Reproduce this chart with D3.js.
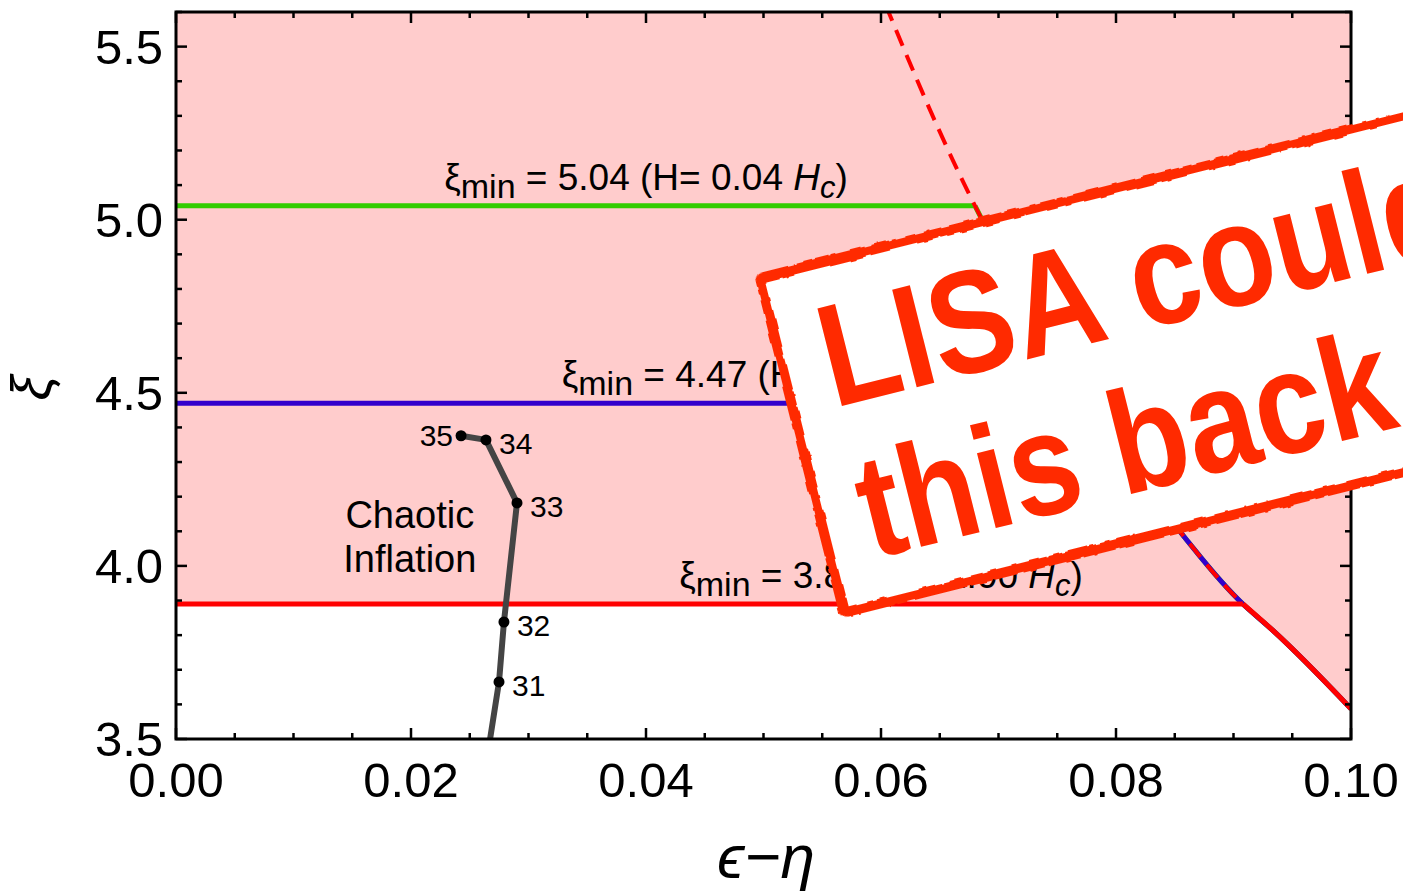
<!DOCTYPE html>
<html>
<head>
<meta charset="utf-8">
<script src="https://cdn.jsdelivr.net/npm/d3@7"></script>
<style>
  html, body { margin: 0; padding: 0; background: #fff; }
  svg { display: block; }
  text { font-family: "Liberation Sans", Arial, "DejaVu Sans", sans-serif; }
</style>
</head>
<body>
<svg id="chart" width="1403" height="894"></svg>
<script>
// ---- data ----
const xDomain = [0, 0.10];
const yDomain = [3.5, 5.6];
const xTickValues = [0, 0.02, 0.04, 0.06, 0.08, 0.10];
const xTickLabels = ["0.00", "0.02", "0.04", "0.06", "0.08", "0.10"];
const yTickValues = [3.5, 4.0, 4.5, 5.0, 5.5];
const yTickLabels = ["3.5", "4.0", "4.5", "5.0", "5.5"];

// boundary of the allowed region (epsilon - eta vs xi)
const boundaryX  = [0.0604, 0.0680, 0.0686, 0.0723, 0.0775, 0.0815, 0.0859, 0.0908, 0.0933, 0.1000];
const boundaryXi = [5.62,   5.04,   5.00,   4.77,   4.47,   4.28,   4.08,   3.89,   3.815,  3.587];

// minimum xi levels and their Hubble rates
const levelXi     = [5.04, 4.47, 3.89];
const levelH      = ["0.04", "0.20", "1.00"];
const levelColors = ["#33cc00", "#3300cc", "#ff0000"];

// chaotic inflation trajectory, labelled by number of e-folds
const chaoticX     = [0.0265, 0.02749, 0.02791, 0.02902, 0.02638, 0.02426];
const chaoticXi    = [3.45,   3.665,   3.838,   4.182,   4.364,   4.376];
const chaoticLabel = [null,   "31",    "32",    "33",    "34",    "35"];

// ---- layout ----
const svg = d3.select("#chart");
const plot = { left: 176, right: 1351, top: 12, bottom: 739 };
const x = d3.scaleLinear().domain(xDomain).range([plot.left, plot.right]);
const y = d3.scaleLinear().domain(yDomain).range([plot.bottom, plot.top]);

const defs = svg.append("defs");
defs.append("clipPath").attr("id", "plotClip")
  .append("rect")
  .attr("x", plot.left).attr("y", plot.top)
  .attr("width", plot.right - plot.left).attr("height", plot.bottom - plot.top);

const g = svg.append("g").attr("clip-path", "url(#plotClip)");

const boundary = boundaryX.map((v, i) => ({ x: v, xi: boundaryXi[i] }));
const curveGen = d3.line().x(d => x(d.x)).y(d => y(d.xi)).curve(d3.curveMonotoneY);
const linGen = d3.line().x(d => x(d.x)).y(d => y(d.xi));

// shaded region above the lowest level, on both sides of the boundary
const lowest = levelXi[levelXi.length - 1];
const lowerPart = boundary.filter(d => d.xi <= lowest + 1e-9);
const lowerStr = curveGen(lowerPart);
const fillPath = `M${x(0)},${y(lowest)}L` + lowerStr.slice(1) +
  `L${x(xDomain[1])},${y(yDomain[1])}L${x(0)},${y(yDomain[1])}Z`;
g.append("path").attr("d", fillPath).attr("fill", "#ffcccc");

// level lines: horizontal up to the boundary, then following it down
levelXi.forEach((lv, i) => {
  const sub = boundary.filter(d => d.xi <= lv + 1e-9);
  const start = sub[0];
  const d = linGen([{ x: 0, xi: lv }, start]) + curveGen(sub);
  g.append("path").attr("d", d)
    .attr("fill", "none").attr("stroke", levelColors[i])
    .attr("stroke-width", 5).attr("stroke-linejoin", "round");
});

// dashed boundary
g.append("path").attr("d", curveGen(boundary))
  .attr("fill", "none").attr("stroke", "#ff0000")
  .attr("stroke-width", 4).attr("stroke-dasharray", "17,10");

// level labels
const labelAt = [0.04, 0.05, 0.06];
levelXi.forEach((lv, i) => {
  const t = g.append("text")
    .attr("x", x(labelAt[i])).attr("y", y(lv) - 16)
    .attr("text-anchor", "middle")
    .attr("font-size", 37).attr("fill", "#000");
  t.append("tspan").text("ξ");
  t.append("tspan").attr("dy", 8).attr("font-size", 34).text("min");
  t.append("tspan").attr("dy", -8).text(` = ${lv.toFixed(2)} (H= ${levelH[i]} `);
  t.append("tspan").attr("font-style", "italic").text("H");
  t.append("tspan").attr("font-style", "italic").attr("dy", 8).attr("font-size", 31).text("c");
  t.append("tspan").attr("dy", -8).text(")");
});

// chaotic inflation trajectory
const traj = chaoticX.map((v, i) => ({ x: v, xi: chaoticXi[i], label: chaoticLabel[i] }));
g.append("path").attr("d", linGen(traj))
  .attr("fill", "none").attr("stroke", "#444")
  .attr("stroke-width", 6).attr("stroke-linejoin", "round");
const pts = traj.filter(d => d.label);
g.selectAll("circle.pt").data(pts).enter().append("circle")
  .attr("cx", d => x(d.x)).attr("cy", d => y(d.xi)).attr("r", 5.5).attr("fill", "#000");
g.selectAll("text.pt").data(pts).enter().append("text")
  .attr("x", (d, i) => i === pts.length - 1 ? x(d.x) - 8 : x(d.x) + 13)
  .attr("y", (d, i) => y(d.xi) + (i === pts.length - 1 ? 10 : 14))
  .attr("text-anchor", (d, i) => i === pts.length - 1 ? "end" : "start")
  .attr("font-size", 30).attr("fill", "#000")
  .text(d => d.label);

const ci = g.append("text").attr("text-anchor", "middle").attr("font-size", 38).attr("fill", "#000");
ci.append("tspan").attr("x", x(0.0199)).attr("y", 528).text("Chaotic");
ci.append("tspan").attr("x", x(0.0199)).attr("y", 572).text("Inflation");

// ---- frame and ticks ----
const axes = svg.append("g").attr("stroke", "#000");
axes.append("rect")
  .attr("x", plot.left).attr("y", plot.top)
  .attr("width", plot.right - plot.left).attr("height", plot.bottom - plot.top)
  .attr("fill", "none").attr("stroke-width", 3);

const xMinor = d3.range(0, 0.1001, 0.005);
xMinor.forEach(v => {
  const major = xTickValues.some(t => Math.abs(t - v) < 1e-9);
  const len = major ? 11 : 6;
  axes.append("line").attr("x1", x(v)).attr("x2", x(v))
    .attr("y1", plot.bottom).attr("y2", plot.bottom - len).attr("stroke-width", 2.5);
  axes.append("line").attr("x1", x(v)).attr("x2", x(v))
    .attr("y1", plot.top).attr("y2", plot.top + len).attr("stroke-width", 2.5);
});
const yMinor = d3.range(3.5, 5.6001, 0.1);
yMinor.forEach(v => {
  const major = yTickValues.some(t => Math.abs(t - v) < 1e-9);
  const len = major ? 11 : 6;
  axes.append("line").attr("y1", y(v)).attr("y2", y(v))
    .attr("x1", plot.left).attr("x2", plot.left + len).attr("stroke-width", 2.5);
  axes.append("line").attr("y1", y(v)).attr("y2", y(v))
    .attr("x1", plot.right).attr("x2", plot.right - len).attr("stroke-width", 2.5);
});

svg.selectAll("text.xt").data(xTickValues).enter().append("text")
  .attr("x", d => x(d)).attr("y", 797)
  .attr("text-anchor", "middle").attr("font-size", 49).attr("fill", "#000")
  .text((d, i) => xTickLabels[i]);
svg.selectAll("text.yt").data(yTickValues).enter().append("text")
  .attr("x", 163).attr("y", d => y(d) + 17)
  .attr("text-anchor", "end").attr("font-size", 49).attr("fill", "#000")
  .text((d, i) => yTickLabels[i]);

svg.append("text")
  .attr("transform", "translate(50,388) rotate(-90)")
  .attr("text-anchor", "middle").attr("font-size", 56)
  .attr("font-family", "DejaVu Sans").attr("font-style", "italic")
  .text("ξ");
svg.append("text")
  .attr("x", 766).attr("y", 878)
  .attr("text-anchor", "middle").attr("font-size", 62)
  .attr("font-family", "DejaVu Sans").attr("font-style", "italic")
  .text("ϵ−η");

// ---- sticker ----
const rough = defs.append("filter").attr("id", "rough")
  .attr("x", "-5%").attr("y", "-5%").attr("width", "110%").attr("height", "110%");
rough.append("feTurbulence").attr("type", "fractalNoise")
  .attr("baseFrequency", 0.08).attr("numOctaves", 2).attr("seed", 3).attr("result", "n");
rough.append("feDisplacementMap").attr("in", "SourceGraphic").attr("in2", "n")
  .attr("scale", 5).attr("xChannelSelector", "R").attr("yChannelSelector", "G");

const stickerColor = "#ff2a00";
const sticker = svg.append("g").attr("transform", "translate(760,278) rotate(-14.1)");
sticker.append("rect").attr("x", 0).attr("y", 0).attr("width", 1000).attr("height", 345)
  .attr("fill", "#fff");
sticker.append("rect").attr("x", 0).attr("y", 0).attr("width", 1000).attr("height", 345)
  .attr("rx", 4).attr("fill", "none").attr("stroke", stickerColor).attr("stroke-width", 10)
  .attr("filter", "url(#rough)");
const stickerText = sticker.append("g").attr("transform", "translate(40,0) scale(1,1.16)")
  .attr("font-size", 126).attr("font-weight", "bold").attr("fill", stickerColor);
stickerText.append("text").attr("x", 0).attr("y", 144 / 1.16).text("LISA could");
stickerText.append("text").attr("x", 0).attr("y", 300 / 1.16).text("this back");
</script>
</body>
</html>
